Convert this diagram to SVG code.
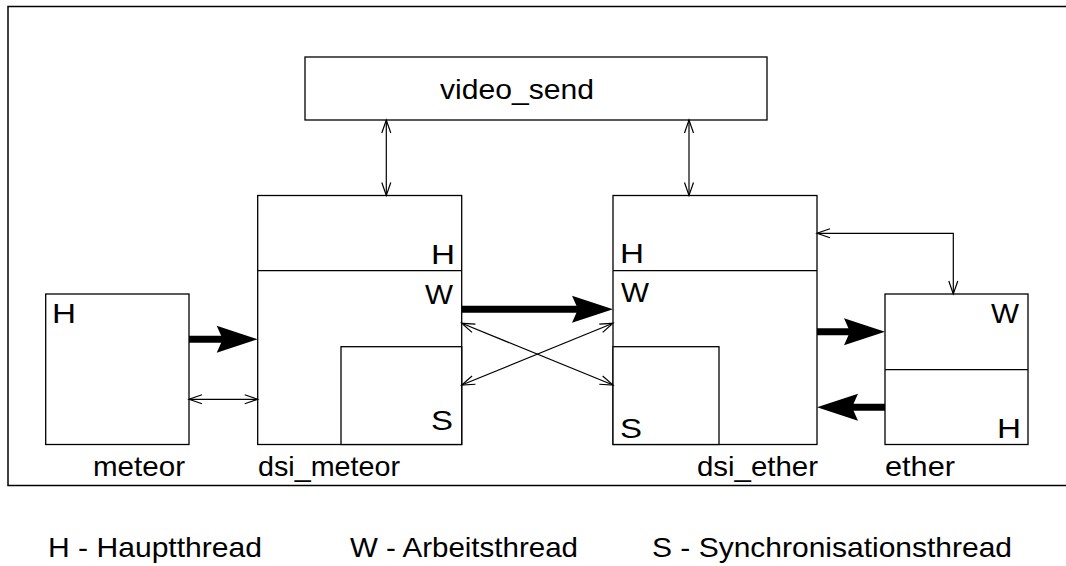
<svg xmlns="http://www.w3.org/2000/svg" width="1066" height="566" viewBox="0 0 1066 566">
<defs>
<style>
.box{fill:#fff;stroke:#000;stroke-width:1.3}
.ln{fill:none;stroke:#000;stroke-width:1.3}
.thin{fill:none;stroke:#000;stroke-width:1.2}
.thick{fill:none;stroke:#000;stroke-width:7}
text{font-family:"Liberation Sans",Arial,sans-serif;font-size:28px;fill:#000}
</style>
<marker id="open" viewBox="-14 -6 16 12" refX="0" refY="0" markerWidth="16" markerHeight="12" markerUnits="userSpaceOnUse" orient="auto-start-reverse">
<path d="M-13,-4.5 L0,0 L-13,4.5" fill="none" stroke="#000" stroke-width="1.2"/>
</marker>
<marker id="big" viewBox="-44 -15 46 30" refX="0" refY="0" markerWidth="46" markerHeight="30" markerUnits="userSpaceOnUse" orient="auto">
<polygon points="0,0 -41,-13.5 -35,0 -41,13.5" fill="#000"/>
</marker>
</defs>
<rect x="8" y="6.5" width="1070" height="479" fill="none" stroke="#000" stroke-width="1.5"/>
<g id="video_send">
<rect class="box" x="305" y="57" width="462" height="63"/>
<text x="440" y="99" textLength="154" lengthAdjust="spacingAndGlyphs">video_send</text>
</g>
<g id="meteor">
<rect class="box" x="45.7" y="294" width="143.3" height="150.5"/>
<text x="52" y="323" textLength="24" lengthAdjust="spacingAndGlyphs">H</text>
<text x="93" y="476" textLength="92" lengthAdjust="spacingAndGlyphs">meteor</text>
</g>
<g id="dsi_meteor">
<rect class="box" x="257.7" y="195.5" width="204" height="249"/>
<line class="ln" x1="257.7" y1="270.7" x2="461.7" y2="270.7"/>
<rect class="box" x="341" y="346.7" width="120.7" height="97.8"/>
<text x="431" y="264" textLength="24" lengthAdjust="spacingAndGlyphs">H</text>
<text x="425" y="304" textLength="28" lengthAdjust="spacingAndGlyphs">W</text>
<text x="431" y="430" textLength="22" lengthAdjust="spacingAndGlyphs">S</text>
<text x="258" y="476" textLength="142" lengthAdjust="spacingAndGlyphs">dsi_meteor</text>
</g>
<g id="dsi_ether">
<rect class="box" x="613" y="195.5" width="204" height="249"/>
<line class="ln" x1="613" y1="270.7" x2="817" y2="270.7"/>
<rect class="box" x="613" y="346.7" width="106" height="97.8"/>
<text x="620" y="263" textLength="24" lengthAdjust="spacingAndGlyphs">H</text>
<text x="621" y="302" textLength="28" lengthAdjust="spacingAndGlyphs">W</text>
<text x="620" y="438" textLength="22" lengthAdjust="spacingAndGlyphs">S</text>
<text x="697" y="476" textLength="121" lengthAdjust="spacingAndGlyphs">dsi_ether</text>
</g>
<g id="ether">
<rect class="box" x="885" y="294" width="143" height="150.5"/>
<line class="ln" x1="885" y1="369.7" x2="1028" y2="369.7"/>
<text x="991" y="323" textLength="28" lengthAdjust="spacingAndGlyphs">W</text>
<text x="997" y="438" textLength="24" lengthAdjust="spacingAndGlyphs">H</text>
<text x="885" y="476" textLength="70" lengthAdjust="spacingAndGlyphs">ether</text>
</g>
<g id="connectors">
<line class="thin" x1="386.3" y1="120" x2="386.3" y2="195.5" marker-start="url(#open)" marker-end="url(#open)"/>
<line class="thin" x1="689" y1="120" x2="689" y2="195.5" marker-start="url(#open)" marker-end="url(#open)"/>
<line class="thick" x1="189" y1="339.3" x2="230" y2="339.3"/>
<line x1="189" y1="339.3" x2="257.7" y2="339.3" stroke="none" marker-end="url(#big)"/>
<line class="thin" x1="189" y1="399.3" x2="257.7" y2="399.3" marker-start="url(#open)" marker-end="url(#open)"/>
<line class="thick" x1="461.7" y1="309.3" x2="585" y2="309.3"/>
<line x1="461.7" y1="309.3" x2="613" y2="309.3" stroke="none" marker-end="url(#big)"/>
<line class="thin" x1="461.7" y1="323.3" x2="613" y2="385" marker-start="url(#open)" marker-end="url(#open)"/>
<line class="thin" x1="461.7" y1="385" x2="613" y2="323.3" marker-start="url(#open)" marker-end="url(#open)"/>
<line class="thick" x1="817" y1="331.7" x2="857" y2="331.7"/>
<line x1="817" y1="331.7" x2="885" y2="331.7" stroke="none" marker-end="url(#big)"/>
<line class="thick" x1="885" y1="407.3" x2="845" y2="407.3"/>
<line x1="885" y1="407.3" x2="817" y2="407.3" stroke="none" marker-end="url(#big)"/>
<polyline class="thin" points="817,233.3 953.3,233.3 953.3,294" marker-start="url(#open)" marker-end="url(#open)"/>
</g>
<g id="legend">
<text x="48" y="557" textLength="214" lengthAdjust="spacingAndGlyphs">H - Hauptthread</text>
<text x="350" y="557" textLength="228" lengthAdjust="spacingAndGlyphs">W - Arbeitsthread</text>
<text x="652" y="557" textLength="360" lengthAdjust="spacingAndGlyphs">S - Synchronisationsthread</text>
</g>
</svg>
